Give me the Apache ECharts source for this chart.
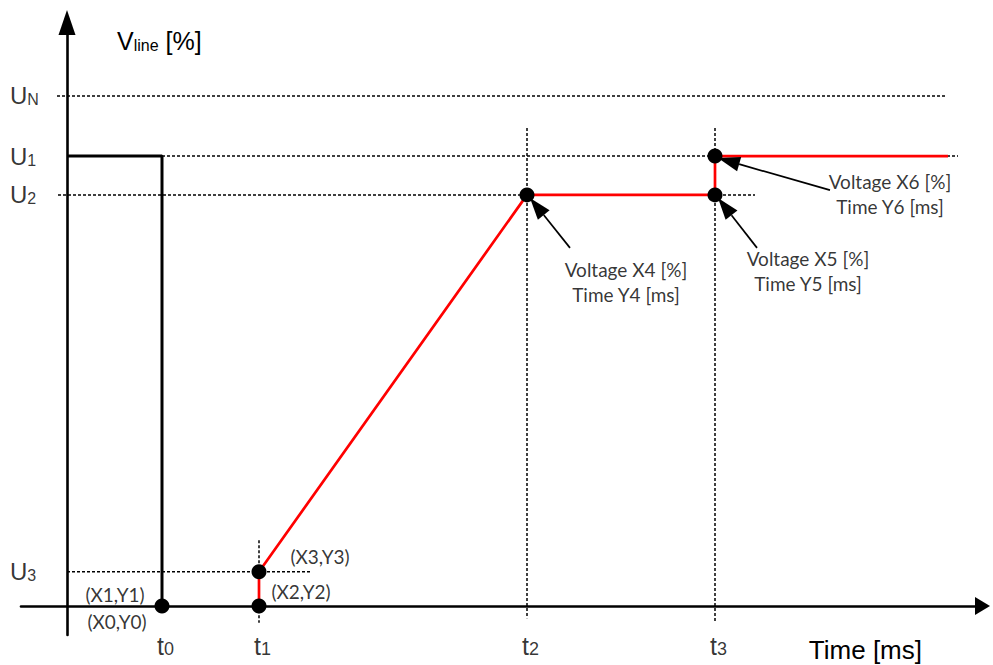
<!DOCTYPE html>
<html>
<head>
<meta charset="utf-8">
<script src="https://cdn.jsdelivr.net/npm/echarts@6/dist/echarts.min.js"></script>
<style>
html,body{margin:0;padding:0;background:#fff;}
#chart{width:993px;height:665px;}
</style>
</head>
<body>
<div id="chart"></div>
<script>
// ---- data (time in ms, arbitrary units; voltage in % of UN) ----
const timeNames = ['0', '1', '2', '3'];
const timeValues = [9.5, 19.2, 46.0, 64.8];
const levelNames = ['N', '1', '2', '3'];
const levelValues = [100, 88.2, 80.6, 6.7];
const blackTrace = [[0, 88.2], [9.5, 88.2], [9.5, 0]];
const redTrace = [[19.2, 0], [19.2, 6.7], [46.0, 80.6], [64.8, 80.6], [64.8, 88.2], [88.1, 88.2]];
const pointCoords = [[9.5, 0], [19.2, 0], [19.2, 6.7], [46.0, 80.6], [64.8, 80.6], [64.8, 88.2]];
// horizontal guides: [level, xFrom, xTo]
const levelGuides = [[100, -1.0, 87.8], [88.2, 9.5, 89.1], [80.6, -0.9, 68.8], [6.7, 0, 24.5]];
// vertical guides: [time, yFrom, yTo]
const timeGuides = [[19.2, 12.9, -3.3], [46.0, 93.7, -2.4], [64.8, 93.7, -3.1]];
// point annotations: [pointIndex, text]
const annotTexts = [
  [0, '(X1,Y1)'], [0, '(X0,Y0)'], [1, '(X2,Y2)'], [2, '(X3,Y3)'],
  [3, 'Voltage X4 [%]\nTime Y4 [ms]'], [4, 'Voltage X5 [%]\nTime Y5 [ms]'], [5, 'Voltage X6 [%]\nTime Y6 [ms]']
];
const arrowPoints = [3, 4, 5];

// ---- styles ----
const annotOffsets = [[-47, -11], [-45, 16], [42, -14], [61, -15], [99, 87], [93, 76], [175, 38]];
const arrowOffsets = [
  { tail: [43, 53], tip: [3, 3] },
  { tail: [42, 53], tip: [3, 3] },
  { tail: [115, 34], tip: [3, 2] }
];
const SANS = 'Liberation Sans, Arial, sans-serif';
const CAL = 'Lato, Carlito, sans-serif';
const dash = { color: '#000', width: 1.5, type: [3, 2] };

const series = [];
levelGuides.forEach(g => series.push({
  type: 'line', silent: true, showSymbol: false, z: 1,
  data: [[g[1], g[0]], [g[2], g[0]]], lineStyle: dash
}));
timeGuides.forEach(g => series.push({
  type: 'line', silent: true, showSymbol: false, z: 1,
  data: [[g[0], g[1]], [g[0], g[2]]], lineStyle: dash
}));
series.push({
  type: 'line', showSymbol: false, z: 3, data: blackTrace,
  lineStyle: { color: '#000', width: 3 }
});
series.push({
  type: 'line', showSymbol: false, z: 3, data: redTrace,
  lineStyle: { color: '#ff0000', width: 2.7 }
});
series.push({
  type: 'scatter', z: 5, symbolSize: 15, data: pointCoords,
  itemStyle: { color: '#000', opacity: 1 }
});
// arrows
series.push({
  type: 'custom', z: 6, clip: false,
  data: arrowPoints.map(i => pointCoords[i]),
  renderItem: function (params, api) {
    const p = api.coord([api.value(0), api.value(1)]);
    const off = arrowOffsets[params.dataIndex];
    const tail = [p[0] + off.tail[0], p[1] + off.tail[1]];
    const tip = [p[0] + off.tip[0], p[1] + off.tip[1]];
    const dx = tip[0] - tail[0], dy = tip[1] - tail[1];
    const len = Math.sqrt(dx * dx + dy * dy);
    const ux = dx / len, uy = dy / len;
    const hl = 22, hw = 15;
    const base = [tip[0] - ux * hl, tip[1] - uy * hl];
    const px = -uy * hw / 2, py = ux * hw / 2;
    return {
      type: 'group', children: [
        { type: 'line', shape: { x1: tail[0], y1: tail[1], x2: base[0], y2: base[1] }, style: { stroke: '#000', lineWidth: 1.7 } },
        { type: 'polygon', shape: { points: [tip, [base[0] + px, base[1] + py], [base[0] - px, base[1] - py]] }, style: { fill: '#000' } }
      ]
    };
  }
});
// annotation texts
series.push({
  type: 'scatter', z: 7, symbolSize: 1, silent: true, clip: false,
  itemStyle: { color: 'rgba(0,0,0,0)' },
  data: annotTexts.map((a, k) => ({
    value: pointCoords[a[0]],
    label: {
      show: true, position: 'inside', formatter: a[1], offset: annotOffsets[k],
      align: 'center', verticalAlign: 'middle', color: '#000',
      fontFamily: CAL, fontSize: 19, lineHeight: 25
    }
  }))
});
// level labels (U_N, U_1 ...)
series.push({
  type: 'scatter', z: 7, symbolSize: 1, silent: true, clip: false,
  itemStyle: { color: 'rgba(0,0,0,0)' },
  data: levelValues.map((v, i) => ({ value: [0, v], name: levelNames[i] })),
  label: {
    show: true, position: 'inside', offset: [-57, 0], align: 'left', verticalAlign: 'middle',
    formatter: p => '{m|U}{s|' + p.name + '}',
    rich: {
      m: { fontFamily: SANS, fontSize: 24, lineHeight: 24, color: '#000' },
      s: { fontFamily: SANS, fontSize: 16, lineHeight: 13, color: '#000', verticalAlign: 'bottom' }
    }
  }
});
// time labels (t0, t1 ...)
series.push({
  type: 'scatter', z: 7, symbolSize: 1, silent: true, clip: false,
  itemStyle: { color: 'rgba(0,0,0,0)' },
  data: timeValues.map((v, i) => ({ value: [v, 0], name: timeNames[i] })),
  label: {
    show: true, position: 'inside', offset: [-5, 40], align: 'left', verticalAlign: 'middle',
    formatter: p => '{m|t}{s|' + p.name + '}',
    rich: {
      m: { fontFamily: SANS, fontSize: 25, lineHeight: 25, color: '#000' },
      s: { fontFamily: SANS, fontSize: 18, lineHeight: 12, color: '#000', verticalAlign: 'bottom' }
    }
  }
});

const chart = echarts.init(document.getElementById('chart'), null, { renderer: 'svg' });
chart.setOption({
  animation: false,
  backgroundColor: '#fff',
  grid: { left: 21, right: 10.5, top: 22.5, bottom: 30, containLabel: false },
  xAxis: {
    type: 'value', min: -4.6, max: 91.55,
    name: 'Time [ms]', nameLocation: 'end', nameGap: -60.5,
    nameTextStyle: { fontFamily: SANS, fontSize: 26, color: '#000', align: 'right', verticalAlign: 'top', padding: [31, 0, 0, 0] },
    axisLine: { onZero: true, lineStyle: { color: '#000', width: 2.6 }, symbol: ['none', 'triangle'], symbolSize: [18, 15] },
    axisTick: { show: false }, axisLabel: { show: false }, splitLine: { show: false }
  },
  yAxis: {
    type: 'value', min: -5.7, max: 114.4,
    name: '{v|V}{s|line}{v| [%]}', nameLocation: 'end', nameGap: 0,
    nameTextStyle: {
      align: 'left', verticalAlign: 'top', padding: [6, 0, 0, 50],
      rich: {
        v: { fontFamily: SANS, fontSize: 25, lineHeight: 25, color: '#000' },
        s: { fontFamily: SANS, fontSize: 16, lineHeight: 16, color: '#000', verticalAlign: 'bottom' }
      }
    },
    axisLine: { onZero: true, lineStyle: { color: '#000', width: 2.6 }, symbol: ['none', 'triangle'], symbolSize: [17, 25] },
    axisTick: { show: false }, axisLabel: { show: false }, splitLine: { show: false }
  },
  series: series
});
</script>
</body>
</html>
